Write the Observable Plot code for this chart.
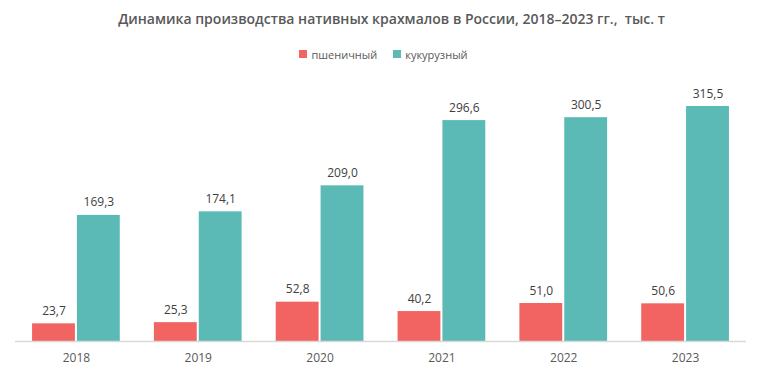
<!DOCTYPE html>
<html>
<head>
<meta charset="utf-8">
<script src="https://cdn.jsdelivr.net/npm/d3@7"></script>
<script src="https://cdn.jsdelivr.net/npm/@observablehq/plot@0.6"></script>
<style>
  html, body { margin: 0; padding: 0; background: #fff; }
  body { width: 761px; height: 378px; overflow: hidden; font-family: "Open Sans", sans-serif; }
  #title { height: 40px; line-height: 38px; text-align: center; font-size: 14px; font-weight: 600; color: #595959; padding-left: 22px; box-sizing: border-box; }
  #legend { height: 30px; display: flex; justify-content: center; align-items: center; font-size: 11px; color: #595959; padding-bottom: 2px; box-sizing: border-box; padding-left: 6px; }
  .item { display: flex; align-items: center; margin: 0 8px; }
  .sw { width: 8px; height: 8px; margin-right: 4px; }
</style>
</head>
<body>
<div id="title">Динамика производства нативных крахмалов в России, 2018–2023 гг.,&nbsp; тыс. т</div>
<div id="legend"></div>
<div id="chart"></div>
<script>
const years = ["2018", "2019", "2020", "2021", "2022", "2023"];
const wheat = [23.7, 25.3, 52.8, 40.2, 51.0, 50.6];
const corn = [169.3, 174.1, 209.0, 296.6, 300.5, 315.5];
const seriesNames = ["пшеничный", "кукурузный"];
const colors = ["#F26462", "#5BBAB5"];

const legend = document.getElementById("legend");
seriesNames.forEach((n, i) => {
  const it = document.createElement("div");
  it.className = "item";
  it.innerHTML = `<div class="sw" style="background:${colors[i]}"></div><span>${n}</span>`;
  legend.appendChild(it);
});

const wheatData = years.map((y, i) => ({year: y, value: wheat[i]}));
const cornData = years.map((y, i) => ({year: y, value: corn[i]}));
const fmt = v => v.toFixed(1).replace(".", ",");

const W = 761, H = 308;
const step = 731 / 6;
const bw = step * 0.72;
const half = bw / 2;

const chart = Plot.plot({
  width: W,
  height: H,
  marginLeft: 15,
  marginRight: 15,
  marginTop: 20,
  marginBottom: 37,
  style: {fontFamily: "Open Sans, sans-serif", fontSize: "12px", color: "#404040", background: "#fff"},
  x: {domain: years, paddingInner: 0.28, paddingOuter: 0.14, round: false, label: null, tickSize: 0, tickPadding: 12},
  y: {domain: [0, 337], axis: null},
  marks: [
    Plot.barY(wheatData, {x: "year", y: "value", fill: colors[0], insetRight: half + 1}),
    Plot.barY(cornData, {x: "year", y: "value", fill: colors[1], insetLeft: half + 1}),
    Plot.text(wheatData, {x: "year", y: "value", text: d => fmt(d.value), dx: -half / 2 - 0.5, dy: -9, lineAnchor: "bottom", fill: "#404040", fontSize: 12}),
    Plot.text(cornData, {x: "year", y: "value", text: d => fmt(d.value), dx: half / 2 + 0.5, dy: -9, lineAnchor: "bottom", fill: "#404040", fontSize: 12}),
    Plot.ruleY([0], {stroke: "#d9d9d9", strokeWidth: 1.5})
  ]
});
chart.querySelectorAll("[aria-label='x-axis tick label'] text").forEach(t => t.setAttribute("fill", "#595959"));
document.getElementById("chart").appendChild(chart);
</script>
</body>
</html>
